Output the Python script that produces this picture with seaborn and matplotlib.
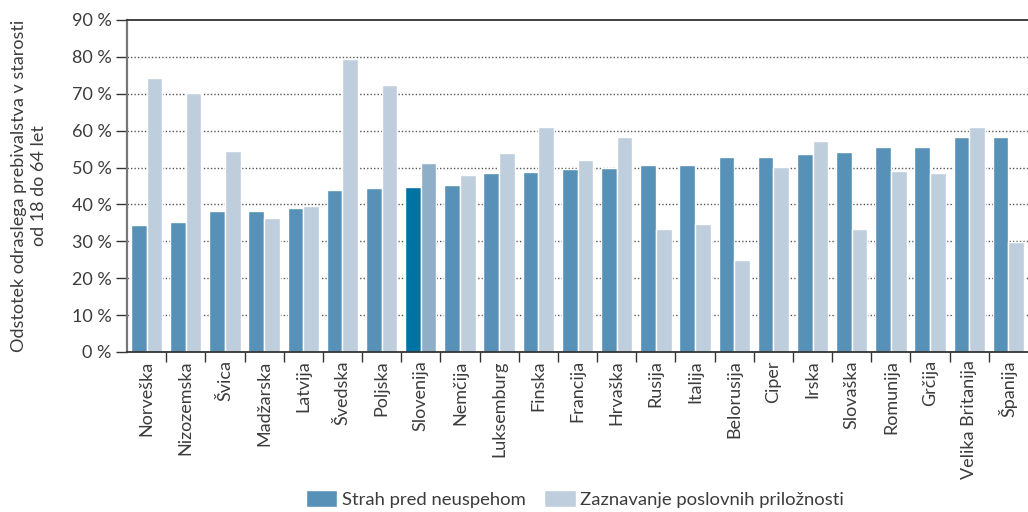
import pandas as pd
import matplotlib.pyplot as plt
import seaborn as sns
from matplotlib.ticker import FixedLocator

# values (percent)
countries = ['Norveška', 'Nizozemska', 'Švica', 'Madžarska', 'Latvija', 'Švedska',
             'Poljska', 'Slovenija', 'Nemčija', 'Luksemburg', 'Finska', 'Francija',
             'Hrvaška', 'Rusija', 'Italija', 'Belorusija', 'Ciper', 'Irska',
             'Slovaška', 'Romunija', 'Grčija', 'Velika Britanija', 'Španija']
strah = [34.4, 35.3, 38.2, 38.2, 39.1, 43.9, 44.5, 44.8, 45.3, 48.6, 48.8, 49.6,
         49.9, 50.7, 50.7, 52.9, 52.9, 53.7, 54.2, 55.6, 55.6, 58.3, 58.3]
priloznosti = [74.3, 70.2, 54.5, 36.3, 39.6, 79.5, 72.4, 51.3, 48.0, 54.0, 61.0, 52.1,
               58.3, 33.4, 34.7, 25.0, 50.2, 57.2, 33.4, 49.1, 48.6, 61.0, 29.9]
series = ['Strah pred neuspehom', 'Zaznavanje poslovnih priložnosti']
yticks = list(range(0, 91, 10))

df = pd.DataFrame({
    'drzava': countries * 2,
    'serija': [series[0]] * len(countries) + [series[1]] * len(countries),
    'vrednost': strah + priloznosti,
})

sns.set_style('white')
plt.rcParams['font.family'] = ['Lato', 'DejaVu Sans']
text_col = '#3c3c3c'

fig = plt.figure(figsize=(10.28, 5.12), dpi=100)
ax = fig.add_axes([127 / 1028, 1 - 352 / 512, 901 / 1028, 332 / 512])

sns.barplot(data=df, x='drzava', y='vrednost', hue='serija', order=countries,
            hue_order=series, palette=['#5791b7', '#bfcedc'], width=0.8,
            saturation=1, legend=False, ax=ax)

# highlight Slovenia
idx = countries.index('Slovenija')
ax.containers[0][idx].set_facecolor('#0073a5')
ax.containers[1][idx].set_facecolor('#8fafc8')

ax.set_xlim(-0.5, len(countries) - 0.5)
ax.set_ylim(0, 90)
ax.set_yticks(yticks)
ax.set_yticklabels([f'{v} %' for v in yticks], fontsize=13, color=text_col)
ax.set_xticks(range(len(countries)))
ax.set_xticklabels(countries, rotation=90, fontsize=13, color=text_col)
ax.tick_params(axis='x', which='major', length=0, pad=6)
ax.xaxis.set_minor_locator(FixedLocator([i + 0.5 for i in range(len(countries) - 1)]))
ax.tick_params(axis='x', which='minor', bottom=True, length=7, width=1, color='#333333')
ax.tick_params(axis='y', left=True, length=8, width=1, color='#333333', pad=3)
ax.set_xlabel('')
ax.set_ylabel('')

for v in yticks[1:-1]:
    ax.axhline(v, color='#555555', lw=1, ls=(0, (1, 1.5)), zorder=0.5)

for s in ['top', 'bottom']:
    ax.spines[s].set_color('#333333')
    ax.spines[s].set_linewidth(1.3)
ax.spines['left'].set_color('#777777')
ax.spines['left'].set_linewidth(1.6)
ax.spines['right'].set_visible(False)
ax.set_axisbelow(True)

fig.text(29 / 1028, 1 - 186 / 512,
         'Odstotek odraslega prebivalstva v starosti\nod 18 do 64 let',
         rotation=90, ha='center', va='center', multialignment='center',
         fontsize=13, color=text_col, linespacing=1.25)

handles = [ax.containers[0][0], ax.containers[1][0]]
fig.legend(handles, series, loc='center', bbox_to_anchor=(575 / 1028, 1 - 499 / 512),
           ncol=2, frameon=False, fontsize=13.3, handlelength=1.7, handleheight=1.0,
           handletextpad=0.25, columnspacing=1.0, labelcolor=text_col)

plt.savefig('out.png', dpi=100)
plt.close()
